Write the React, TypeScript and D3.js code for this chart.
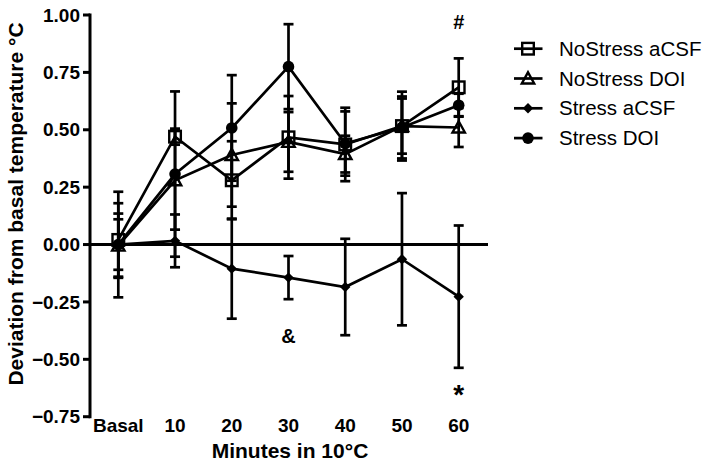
import React from "react";
import * as d3 from "d3";

const categories = ["Basal", "10", "20", "30", "40", "50", "60"];
const yTicks = [1.0, 0.75, 0.5, 0.25, 0.0, -0.25, -0.5, -0.75];

const noStressACSF = [0.02, 0.47, 0.28, 0.467, 0.436, 0.516, 0.685];
const noStressACSFSem = [0.16, 0.035, 0.17, 0.18, 0.16, 0.15, 0.126];
const noStressDOI = [-0.005, 0.28, 0.39, 0.447, 0.394, 0.516, 0.51];
const noStressDOISem = [0.14, 0.215, 0.225, 0.13, 0.08, 0.12, 0.085];
const stressACSF = [0.0, 0.016, -0.105, -0.144, -0.185, -0.064, -0.227];
const stressACSFSem = [0.11, 0.115, 0.218, 0.094, 0.21, 0.288, 0.31];
const stressDOI = [0.0, 0.307, 0.508, 0.775, 0.44, 0.51, 0.607];
const stressDOISem = [0.23, 0.36, 0.23, 0.185, 0.14, 0.135, 0.05];

const seriesNames = ["NoStress aCSF", "NoStress DOI", "Stress aCSF", "Stress DOI"];
const markers = ["square", "triangle", "diamond", "circle"];

const annotations = [
  { cat: "60", value: 0.97, text: "#" },
  { cat: "30", value: -0.4, text: "&" },
  { cat: "60", value: -0.65, text: "*" },
];

const W = 714;
const H = 467;
const FONT = "'Liberation Sans', Arial, Helvetica, sans-serif";

function Marker({ type, x, y }: { type: string; x: number; y: number }) {
  const sw = 2.4;
  if (type === "square") {
    return <rect x={x - 5.8} y={y - 5.8} width={11.6} height={11.6} fill="none" stroke="#000" strokeWidth={sw} />;
  }
  if (type === "triangle") {
    const s = 6.2;
    return (
      <path
        d={`M${x},${y - s}L${x + s},${y + s * 0.8}L${x - s},${y + s * 0.8}Z`}
        fill="none"
        stroke="#000"
        strokeWidth={sw}
        strokeLinejoin="miter"
      />
    );
  }
  if (type === "diamond") {
    const s = 5.2;
    return <path d={`M${x},${y - s}L${x + s},${y}L${x},${y + s}L${x - s},${y}Z`} fill="#000" />;
  }
  return <circle cx={x} cy={y} r={5.8} fill="#000" />;
}

export default function App() {
  const x = d3.scalePoint<string>().domain(categories).range([118.3, 458.7]);
  const y = d3.scaleLinear().domain([-0.75, 1.0]).range([416.7, 15]);

  const series = [
    { name: seriesNames[0], values: noStressACSF, sem: noStressACSFSem, marker: markers[0] },
    { name: seriesNames[1], values: noStressDOI, sem: noStressDOISem, marker: markers[1] },
    { name: seriesNames[2], values: stressACSF, sem: stressACSFSem, marker: markers[2] },
    { name: seriesNames[3], values: stressDOI, sem: stressDOISem, marker: markers[3] },
  ];

  const line = d3
    .line<number>()
    .x((_, i) => x(categories[i]) as number)
    .y((d) => y(d));

  const axisX = 90;
  const capHalf = 5;
  const lw = 2.7;

  return (
    <svg
      width={W}
      height={H}
      style={{ position: "absolute", left: 0, top: 0, background: "#fff" }}
      fontFamily={FONT}
    >
      <rect width={W} height={H} fill="#fff" />
      <line x1={axisX} x2={axisX} y1={y(1.0) - 1.5} y2={y(-0.75) + 1.5} stroke="#000" strokeWidth={3} />
      {yTicks.map((t) => (
        <g key={t}>
          <line x1={axisX - 7} x2={axisX} y1={y(t)} y2={y(t)} stroke="#000" strokeWidth={3} />
          <text x={axisX - 10} y={y(t)} dy="0.35em" textAnchor="end" fontSize={19} fontWeight="bold">
            {d3.format(".2f")(t)}
          </text>
        </g>
      ))}
      <line x1={axisX} x2={488} y1={y(0)} y2={y(0)} stroke="#000" strokeWidth={3} />
      {categories.map((c) => (
        <text key={c} x={x(c) as number} y={425} dy="0.35em" textAnchor="middle" fontSize={19} fontWeight="bold">
          {c}
        </text>
      ))}
      <text x={290} y={451} dy="0.35em" textAnchor="middle" fontSize={21} fontWeight="bold">
        Minutes in 10°C
      </text>
      <text
        transform={`translate(16,${204}) rotate(-90)`}
        dy="0.35em"
        textAnchor="middle"
        fontSize={21}
        fontWeight="bold"
      >
        Deviation from basal temperature °C
      </text>

      {series.map((s) =>
        s.values.map((v, i) => {
          const cx = x(categories[i]) as number;
          const top = y(v + s.sem[i]);
          const bot = y(v - s.sem[i]);
          return (
            <g key={s.name + i} stroke="#000" strokeWidth={lw}>
              <line x1={cx} x2={cx} y1={top} y2={bot} />
              <line x1={cx - capHalf} x2={cx + capHalf} y1={top} y2={top} />
              <line x1={cx - capHalf} x2={cx + capHalf} y1={bot} y2={bot} />
            </g>
          );
        })
      )}
      {series.map((s) => (
        <path key={s.name} d={line(s.values) || ""} fill="none" stroke="#000" strokeWidth={lw} />
      ))}
      {series.map((s) =>
        s.values.map((v, i) => (
          <Marker key={s.name + "m" + i} type={s.marker} x={x(categories[i]) as number} y={y(v)} />
        ))
      )}

      {annotations.map((a, i) => (
        <text
          key={i}
          x={x(a.cat) as number}
          y={y(a.value)}
          dy="0.35em"
          textAnchor="middle"
          fontSize={a.text === "*" ? 28 : 20}
          fontWeight="bold"
        >
          {a.text}
        </text>
      ))}

      {series.map((s, i) => {
        const ly = 48.7 + i * 29.8;
        return (
          <g key={s.name + "lg"}>
            <line x1={514} x2={542.5} y1={ly} y2={ly} stroke="#000" strokeWidth={lw} />
            <Marker type={s.marker} x={528} y={ly} />
            <text x={559} y={ly} dy="0.35em" fontSize={20.5}>
              {s.name}
            </text>
          </g>
        );
      })}
    </svg>
  );
}
